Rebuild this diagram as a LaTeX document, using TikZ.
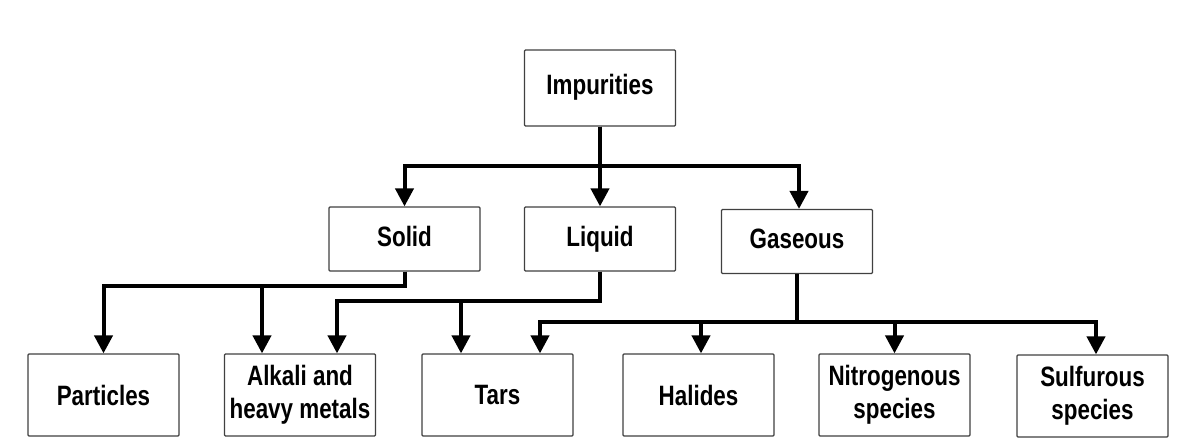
\documentclass[tikz,border=0pt]{standalone}
\usepackage{fontspec}
\setmainfont{Liberation Sans}[FakeStretch=0.8]
\usetikzlibrary{arrows.meta}
\begin{document}
\begin{tikzpicture}[x=1pt,y=1pt,
    box/.style={draw=black!75,line width=1.2pt,rounded corners=1pt,fill=white,
        minimum width=151pt,inner sep=2pt,align=center,
        font=\fontsize{28}{33}\selectfont\bfseries},
    toprow/.style={box,minimum height=76pt,text height=20pt,text depth=6pt},
    midrow/.style={box,minimum height=64pt,text height=20pt,text depth=6pt},
    botrow/.style={box,minimum height=82pt},
    arr/.style={line width=4pt,-{Triangle[width=18pt,length=18pt]}}]
        \useasboundingbox (0,0) rectangle (1177,440);
        %% top
        \node[toprow] (imp) at (600,352) {Impurities};
        %% middle row
        \node[midrow] (solid) at (404.5,201) {Solid};
        \node[midrow] (liquid) at (600,201) {Liquid};
        \node[midrow] (gas) at (797,198.5) {Gaseous};
        %% bottom row
        \node[botrow] (part) at (103.5,45) {Particles};
        \node[botrow] (alkali) at (300,45) {Alkali and\\heavy metals};
        \node[botrow] (tars) at (497.5,45) {Tars};
        \node[botrow] (hal) at (698.5,45) {Halides};
        \node[botrow] (nitro) at (894.5,45) {Nitrogenous\\species};
        \node[botrow] (sulf) at (1092.5,44) {Sulfurous\\species};
        %% impurities
        \draw[arr] (imp.south) -- ++(0,-39) -| (solid.north);
        \draw[arr] (imp.south) -- (liquid.north);
        \draw[arr] (imp.south) -- ++(0,-39) -| ([xshift=2pt]gas.north);
        %% solid
        \draw[arr] (solid.south) -- ++(0,-14) -| (part.north);
        \draw[arr] (solid.south) -- ++(0,-14) -| ([xshift=-38pt]alkali.north);
        %% liquid
        \draw[arr] (liquid.south) -- ++(0,-29) -| ([xshift=37pt]alkali.north);
        \draw[arr] (liquid.south) -- ++(0,-29) -| ([xshift=-36.5pt]tars.north);
        %% gaseous
        \draw[arr] (gas.south) -- ++(0,-48) -| ([xshift=42.5pt]tars.north);
        \draw[arr] (gas.south) -- ++(0,-48) -| ([xshift=2.5pt]hal.north);
        \draw[arr] (gas.south) -- ++(0,-48) -| (nitro.north);
        \draw[arr] (gas.south) -- ++(0,-48) -| ([xshift=3.5pt]sulf.north);
\end{tikzpicture}
\end{document}
